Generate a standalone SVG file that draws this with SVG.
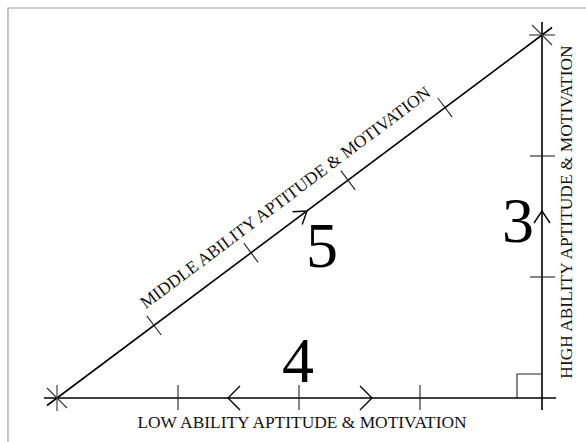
<svg xmlns="http://www.w3.org/2000/svg" width="586" height="442" viewBox="0 0 586 442">
<style>
.frame{stroke:#a0a0a0;stroke-width:1.2;fill:none}
.edge{stroke:#000;stroke-width:1.6;fill:none;stroke-linecap:butt}
.tick{stroke:#222;stroke-width:1.1;fill:none}
.chev{stroke:#000;stroke-width:1.4;fill:none;stroke-linejoin:miter}
.star{stroke:#333;stroke-width:1.1;fill:none}
.num{font-family:"Liberation Serif","Times New Roman",serif;font-size:64px;fill:#000;text-anchor:middle}
.lbl{font-family:"Liberation Serif","Times New Roman",serif;font-size:17.4px;fill:#111;text-anchor:middle}
</style>
<rect width="586" height="442" fill="#fff"/>
<path class="frame" d="M8,442 V8 H586"/>
<g id="connectors">
  <line class="edge" x1="44" y1="398" x2="556" y2="398"/>
  <line class="edge" x1="542" y1="22" x2="542" y2="410"/>
  <line class="edge" x1="47" y1="405.5" x2="552" y2="27.5"/>
  <path class="tick" d="M517,398 V374 H542"/>
  <line class="tick" x1="178" y1="385" x2="178" y2="410"/>
  <line class="tick" x1="299" y1="385" x2="299" y2="410"/>
  <line class="tick" x1="420" y1="385" x2="420" y2="410"/>
  <line class="tick" x1="530" y1="277" x2="555" y2="277"/>
  <line class="tick" x1="530" y1="156" x2="555" y2="156"/>
  <line class="tick" x1="146.8" y1="315.8" x2="161.2" y2="335"/>
  <line class="tick" x1="243.8" y1="243.2" x2="258.2" y2="262.4"/>
  <line class="tick" x1="340.8" y1="170.6" x2="355.2" y2="189.8"/>
  <line class="tick" x1="437.8" y1="98" x2="452.2" y2="117.2"/>
  <path class="chev" d="M240,386 L228,398 L240,410"/>
  <path class="chev" d="M360,386 L372,398 L360,410"/>
  <path class="chev" d="M534,223 L542,211 L550,223"/>
  <path class="chev" d="M292.6,211.8 L307,211 L302.2,224.6"/>
  <line class="star" x1="57" y1="385" x2="57" y2="411"/>
  <line class="star" x1="47" y1="388" x2="67" y2="408"/>
  <line class="star" x1="529" y1="35" x2="555" y2="35"/>
  <line class="star" x1="532" y1="25" x2="552" y2="45"/>
</g>
<g id="side-low">
  <text class="num" x="298" y="382">4</text>
  <text class="lbl" x="302" y="428">LOW ABILITY APTITUDE &amp; MOTIVATION</text>
</g>
<g id="side-middle">
  <text class="num" x="322" y="267">5</text>
  <text class="lbl" transform="translate(288.7,202.1) rotate(-36.82)">MIDDLE ABILITY APTITUDE &amp; MOTIVATION</text>
</g>
<g id="side-high">
  <text class="num" x="518" y="242">3</text>
  <text class="lbl" transform="translate(572,212) rotate(-90)">HIGH ABILITY APTITUDE &amp; MOTIVATION</text>
</g>
</svg>
